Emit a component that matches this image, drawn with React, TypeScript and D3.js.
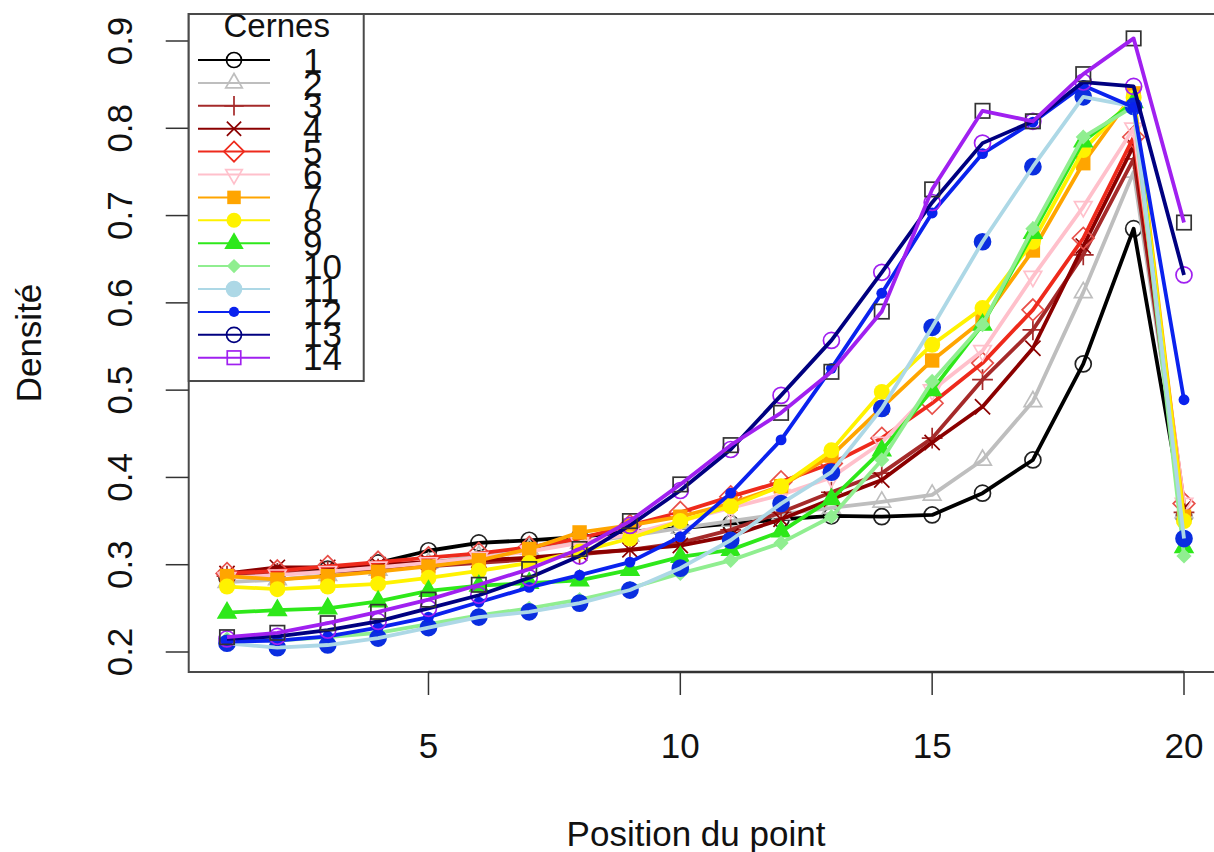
import React, { useEffect, useRef } from "react";
import * as d3 from "d3";

// positions along the radius and density per growth ring (cerne)
const positions = d3.range(1, 21);
const xTicks = [5, 10, 15, 20];
const yTicks = [0.2, 0.3, 0.4, 0.5, 0.6, 0.7, 0.8, 0.9];
const cernes = ["1", "2", "3", "4", "5", "6", "7", "8", "9", "10", "11", "12", "13", "14"];

const cerne1 = [0.285, 0.29, 0.295, 0.302, 0.316, 0.325, 0.328, 0.332, 0.338, 0.342, 0.347, 0.352, 0.356, 0.355, 0.357, 0.382, 0.42, 0.53, 0.685, 0.355];
const cerne2 = [0.28, 0.283, 0.288, 0.294, 0.302, 0.31, 0.318, 0.325, 0.333, 0.342, 0.35, 0.358, 0.365, 0.372, 0.38, 0.42, 0.487, 0.612, 0.75, 0.36];
const cerne3 = [0.287, 0.29, 0.292, 0.295, 0.298, 0.302, 0.306, 0.312, 0.317, 0.325, 0.34, 0.36, 0.383, 0.405, 0.445, 0.512, 0.569, 0.655, 0.765, 0.36];
const cerne4 = [0.29, 0.297, 0.297, 0.3, 0.303, 0.305, 0.308, 0.313, 0.317, 0.322, 0.333, 0.352, 0.375, 0.397, 0.44, 0.481, 0.548, 0.665, 0.78, 0.365];
const cerne5 = [0.29, 0.293, 0.298, 0.303, 0.308, 0.313, 0.32, 0.33, 0.345, 0.36, 0.378, 0.395, 0.416, 0.445, 0.485, 0.531, 0.592, 0.674, 0.79, 0.37];
const cerne6 = [0.285, 0.288, 0.292, 0.297, 0.302, 0.308, 0.315, 0.325, 0.335, 0.35, 0.365, 0.38, 0.4, 0.44, 0.5, 0.545, 0.63, 0.71, 0.8, 0.37];
const cerne7 = [0.287, 0.283, 0.287, 0.292, 0.298, 0.305, 0.318, 0.337, 0.345, 0.355, 0.37, 0.39, 0.425, 0.48, 0.534, 0.58, 0.66, 0.76, 0.84, 0.355];
const cerne8 = [0.275, 0.272, 0.275, 0.278, 0.285, 0.293, 0.302, 0.315, 0.33, 0.35, 0.367, 0.39, 0.431, 0.498, 0.552, 0.594, 0.67, 0.775, 0.835, 0.35];
const cerne9 = [0.245, 0.248, 0.25, 0.258, 0.27, 0.276, 0.279, 0.282, 0.294, 0.309, 0.317, 0.338, 0.375, 0.431, 0.5, 0.575, 0.68, 0.785, 0.83, 0.32];
const cerne10 = [0.215, 0.213, 0.217, 0.222, 0.232, 0.242, 0.25, 0.26, 0.273, 0.29, 0.305, 0.325, 0.355, 0.42, 0.51, 0.575, 0.685, 0.79, 0.825, 0.31];
const cerne11 = [0.21, 0.205, 0.208, 0.216, 0.228, 0.24, 0.246, 0.256, 0.271, 0.296, 0.328, 0.37, 0.406, 0.479, 0.572, 0.67, 0.756, 0.836, 0.825, 0.33];
const cerne12 = [0.212, 0.213, 0.218, 0.228, 0.24, 0.257, 0.274, 0.288, 0.303, 0.332, 0.382, 0.443, 0.525, 0.611, 0.703, 0.771, 0.807, 0.849, 0.824, 0.489];
const cerne13 = [0.215, 0.218, 0.225, 0.235, 0.25, 0.265, 0.285, 0.31, 0.345, 0.385, 0.432, 0.494, 0.557, 0.635, 0.715, 0.783, 0.808, 0.853, 0.848, 0.632];
const cerne14 = [0.217, 0.222, 0.233, 0.246, 0.26, 0.277, 0.295, 0.318, 0.35, 0.392, 0.437, 0.474, 0.521, 0.59, 0.73, 0.82, 0.808, 0.862, 0.903, 0.692];

const values = [cerne1, cerne2, cerne3, cerne4, cerne5, cerne6, cerne7, cerne8, cerne9, cerne10, cerne11, cerne12, cerne13, cerne14];

// R-ish styling: line colour, point colour on the plot, point symbol
const lineColors = ["#000000", "#bebebe", "#a52a2a", "#8b0000", "#ee2a1c", "#ffc0cb", "#ffa500", "#fff200", "#2ee81a", "#90ee90", "#add8e6", "#0a22ee", "#000080", "#a020f0"];
const pointColors = ["#222222", "#bebebe", "#a52a2a", "#8b0000", "#e8504a", "#ffc0cb", "#ffa500", "#fff200", "#2ee81a", "#90ee90", "#0a2ee0", "#0a22ee", "#a020f0", "#333333"];
const pchs = [1, 2, 3, 4, 5, 6, 15, 16, 17, 18, 19, 20, 21, 22];

const FONT = "'Liberation Sans', Arial, Helvetica, sans-serif";

type G = d3.Selection<SVGGElement, unknown, null, undefined>;

const drawMarker = (g: G, pch: number, cx: number, cy: number, col: string, r = 8) => {
  const sw = 1.7;
  if (pch === 1 || pch === 21) {
    g.append("circle").attr("cx", cx).attr("cy", cy).attr("r", r)
      .attr("fill", "none").attr("stroke", col).attr("stroke-width", sw);
  } else if (pch === 16 || pch === 19) {
    g.append("circle").attr("cx", cx).attr("cy", cy).attr("r", r)
      .attr("fill", col).attr("stroke", col).attr("stroke-width", pch === 19 ? sw : 0);
  } else if (pch === 20) {
    g.append("circle").attr("cx", cx).attr("cy", cy).attr("r", r * 0.68).attr("fill", col);
  } else if (pch === 2 || pch === 17 || pch === 6) {
    const d = pch === 6 ? -1 : 1;
    const p = `M${cx},${cy - d * r * 1.25}L${cx + r * 1.1},${cy + d * r * 0.65}L${cx - r * 1.1},${cy + d * r * 0.65}Z`;
    g.append("path").attr("d", p)
      .attr("fill", pch === 17 ? col : "none").attr("stroke", col).attr("stroke-width", sw);
  } else if (pch === 3) {
    const a = r * 1.3;
    g.append("path").attr("d", `M${cx - a},${cy}H${cx + a}M${cx},${cy - a}V${cy + a}`)
      .attr("stroke", col).attr("stroke-width", sw).attr("fill", "none");
  } else if (pch === 4) {
    const a = r * 0.95;
    g.append("path").attr("d", `M${cx - a},${cy - a}L${cx + a},${cy + a}M${cx - a},${cy + a}L${cx + a},${cy - a}`)
      .attr("stroke", col).attr("stroke-width", sw).attr("fill", "none");
  } else if (pch === 5 || pch === 18) {
    const a = pch === 18 ? r * 0.95 : r * 1.35;
    g.append("path").attr("d", `M${cx},${cy - a}L${cx + a},${cy}L${cx},${cy + a}L${cx - a},${cy}Z`)
      .attr("fill", pch === 18 ? col : "none").attr("stroke", col).attr("stroke-width", pch === 18 ? 0 : sw);
  } else if (pch === 15 || pch === 22) {
    const a = r * 0.9;
    g.append("rect").attr("x", cx - a).attr("y", cy - a).attr("width", 2 * a).attr("height", 2 * a)
      .attr("fill", pch === 15 ? col : "none").attr("stroke", col).attr("stroke-width", pch === 15 ? 0 : sw);
  }
};

const DensityChart: React.FC = () => {
  const ref = useRef<SVGSVGElement | null>(null);

  useEffect(() => {
    const svg = d3.select(ref.current);
    svg.selectAll("*").remove();

    const x = d3.scaleLinear().domain([1, 20]).range([227, 1184]);
    const y = d3.scaleLinear().domain([0.2, 0.9]).range([652, 41]);

    // R style 4% extension of the data range
    const all = values.flat();
    const yMin = d3.min(all)!, yMax = d3.max(all)!;
    const ext = (yMax - yMin) * 0.04;
    const x0 = x(1 - 19 * 0.04), x1 = x(20 + 19 * 0.04);
    const yTop = y(yMax + ext), yBot = y(yMin - ext);

    const root = svg.append("g");

    // series: points first, then the line on top
    values.forEach((vals, i) => {
      const g = root.append("g");
      vals.forEach((v, j) => drawMarker(g, pchs[i], x(positions[j]), y(v), pointColors[i]));
      const line = d3.line<number>().x((_, j) => x(positions[j])).y((d) => y(d));
      g.append("path").attr("d", line(vals)!).attr("fill", "none")
        .attr("stroke", lineColors[i]).attr("stroke-width", 3.8).attr("stroke-linejoin", "round");
    });

    // plot box
    root.append("rect").attr("x", x0).attr("y", yTop).attr("width", x1 - x0).attr("height", yBot - yTop)
      .attr("fill", "none").attr("stroke", "#4a4a4a").attr("stroke-width", 2);

    // x axis
    const xa = root.append("g").attr("stroke", "#333").attr("stroke-width", 1.5);
    xa.append("line").attr("x1", x(xTicks[0])).attr("x2", x(xTicks[xTicks.length - 1]))
      .attr("y1", yBot).attr("y2", yBot).attr("stroke-width", 2.5);
    xTicks.forEach((t) => {
      xa.append("line").attr("x1", x(t)).attr("x2", x(t)).attr("y1", yBot).attr("y2", yBot + 23);
      root.append("text").attr("x", x(t)).attr("y", yBot + 86).attr("text-anchor", "middle")
        .attr("font-family", FONT).attr("font-size", 35).attr("fill", "#111").text(t);
    });

    // y axis
    const ya = root.append("g").attr("stroke", "#333").attr("stroke-width", 1.5);
    yTicks.forEach((t) => {
      ya.append("line").attr("x1", x0 - 23).attr("x2", x0).attr("y1", y(t)).attr("y2", y(t));
      root.append("text").attr("transform", `translate(${x0 - 57},${y(t)}) rotate(-90)`)
        .attr("text-anchor", "middle").attr("font-family", FONT).attr("font-size", 35)
        .attr("fill", "#111").text(t.toFixed(1));
    });

    // axis titles
    root.append("text").attr("x", 696).attr("y", 846).attr("text-anchor", "middle")
      .attr("font-family", FONT).attr("font-size", 35).attr("fill", "#111").text("Position du point");
    root.append("text").attr("transform", `translate(41,${(yTop + yBot) / 2}) rotate(-90)`)
      .attr("text-anchor", "middle").attr("font-family", FONT).attr("font-size", 35)
      .attr("fill", "#111").text("Densité");

    // legend
    const lg = root.append("g");
    lg.append("rect").attr("x", x0).attr("y", yTop).attr("width", 175).attr("height", 367)
      .attr("fill", "white").attr("stroke", "#4a4a4a").attr("stroke-width", 2);
    lg.append("text").attr("x", x0 + 88).attr("y", 37).attr("text-anchor", "middle")
      .attr("font-family", FONT).attr("font-size", 33).attr("fill", "#111").text("Cernes");
    cernes.forEach((c, i) => {
      const ry = 60 + i * 22.9;
      lg.append("line").attr("x1", 198).attr("x2", 270).attr("y1", ry).attr("y2", ry)
        .attr("stroke", lineColors[i]).attr("stroke-width", 2);
      drawMarker(lg, pchs[i], 234, ry, lineColors[i], 7.5);
      lg.append("text").attr("x", 303).attr("y", ry).attr("dy", "0.36em")
        .attr("font-family", FONT).attr("font-size", 35).attr("fill", "#111").text(c);
    });
  }, []);

  return (
    <svg
      ref={ref}
      width={1214}
      height={852}
      style={{ position: "absolute", left: 0, top: 0, background: "white" }}
    />
  );
};

export default function App() {
  return <DensityChart />;
}
